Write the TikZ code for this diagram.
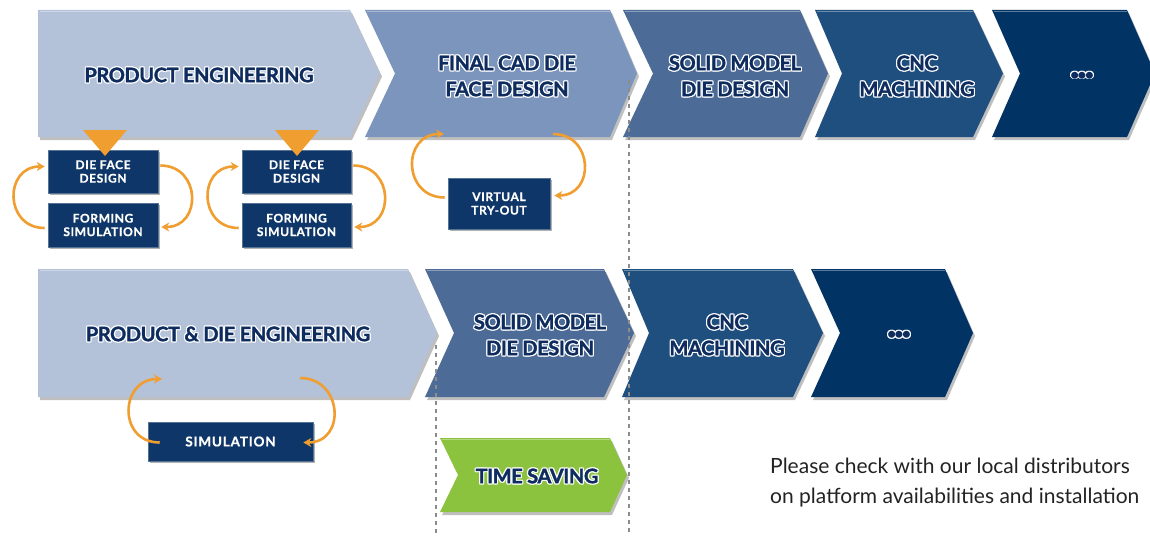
\documentclass[tikz,border=0pt]{standalone}
\usepackage{fontspec}
\setmainfont{Lato}
\usetikzlibrary{shadows,arrows.meta}
\definecolor{cA}{RGB}{179,193,217}
\definecolor{cB}{RGB}{124,149,189}
\definecolor{cC}{RGB}{76,107,151}
\definecolor{cD}{RGB}{30,79,127}
\definecolor{cE}{RGB}{2,51,101}
\definecolor{cG}{RGB}{140,195,62}
\definecolor{boxnavy}{RGB}{14,54,104}
\definecolor{txtnavy}{RGB}{14,44,94}
\definecolor{orng}{RGB}{240,158,48}
\definecolor{dashgray}{RGB}{140,140,140}
\definecolor{notegray}{RGB}{35,35,35}
\newcommand\glw[2][1pt]{%
  \setbox0=\hbox{\color{txtnavy}\begin{tabular}{@{}c@{}}#2\end{tabular}}%
  \setbox2=\hbox{\color{white}\begin{tabular}{@{}c@{}}#2\end{tabular}}%
  \rlap{\kern#1\copy2}\rlap{\kern-#1\copy2}%
  \rlap{\raise#1\copy2}\rlap{\lower#1\copy2}%
  \rlap{\kern#1\raise#1\copy2}\rlap{\kern-#1\raise#1\copy2}%
  \rlap{\kern#1\lower#1\copy2}\rlap{\kern-#1\lower#1\copy2}%
  \box0}
\newcommand\chev[7]{%
  \fill[#7, chevshadow] (#1,#5) -- (#3,#5) -- (#4,{(#5+#6)/2}) -- (#3,#6) -- (#1,#6) -- (#2,{(#5+#6)/2}) -- cycle;
  \draw[white, opacity=0.35, line width=1.2pt] (#1+1.5,#5+1.2) -- (#3,#5+1.2);}
\tikzset{
  chevshadow/.style={drop shadow={shadow xshift=2pt, shadow yshift=-3pt, opacity=0.25, fill=black}},
  chevlabel/.style={inner sep=0pt, font=\bfseries\fontsize{20}{26}\selectfont\addfontfeature{FakeBold=1.6,LetterSpace=-2}},
  dotlabel/.style={inner sep=0pt, font=\bfseries\fontsize{16}{20}\selectfont\addfontfeature{LetterSpace=-12}},
  smallbox/.style={fill=boxnavy, draw=boxnavy!70!white, line width=0.6pt, inner sep=0pt, text=white,
    align=center, font=\bfseries\fontsize{12}{13.5}\selectfont\addfontfeature{LetterSpace=5,FakeBold=0.8},
    drop shadow={shadow xshift=2pt, shadow yshift=-2pt, opacity=0.3, fill=black}},
  loop/.style={draw=orng, line width=2.6pt, -{Stealth[length=8pt,width=9pt]}, looseness=1.7},
  dashline/.style={draw=dashgray, line width=1.3pt, dash pattern=on 4pt off 4pt},
  note/.style={anchor=base west, inner sep=0pt, text=notegray, font=\fontsize{21}{30}\selectfont}
}
\begin{document}
\begin{tikzpicture}[x=1pt,y=-1pt]
\clip (0,0) rectangle (1150,535);
\fill[white] (0,0) rectangle (1150,535);
% row 1 chevrons
\chev{38}{38}{350}{380}{10}{137}{cA}
\chev{365}{395}{610}{637}{10}{137}{cB}
\chev{623}{653}{800}{828}{10}{137}{cC}
\chev{815}{842}{973}{1003}{10}{137}{cD}
\chev{992}{1020}{1127}{1155}{10}{137}{cE}
% row 2 chevrons
\chev{38}{38}{408}{437}{269}{397}{cA}
\chev{425}{454}{604}{634}{269}{397}{cC}
\chev{622}{649}{793}{823}{269}{397}{cD}
\chev{811}{840}{945}{973}{269}{397}{cE}
\chev{440}{458}{610}{627}{438}{512}{cG}
% labels
\node[chevlabel] (pe1) at (199,77) {\glw{PRODUCT ENGINEERING}};
\node[chevlabel] (fcad) at (507,78) {\glw{FINAL CAD DIE\\FACE DESIGN}};
\node[chevlabel] (sm1) at (735,78) {\glw{SOLID MODEL\\DIE DESIGN}};
\node[chevlabel] (cnc1) at (917,78) {\glw{CNC\\MACHINING}};
\node[dotlabel] (dots1) at (1082,76) {\glw{•••}};
\node[chevlabel] (pde) at (228,336) {\glw{PRODUCT \& DIE ENGINEERING}};
\node[chevlabel] (sm2) at (540,337) {\glw{SOLID MODEL\\DIE DESIGN}};
\node[chevlabel] (cnc2) at (727,337) {\glw{CNC\\MACHINING}};
\node[dotlabel] (dots2) at (899,335) {\glw{•••}};
\node[chevlabel] (ts) at (537,478) {\glw{TIME SAVING}};
% small boxes
\node[smallbox, minimum width=110pt, minimum height=43pt] (df1) at (103,171.5) {DIE FACE\\DESIGN};
\node[smallbox, minimum width=110pt, minimum height=44pt] (fs1) at (103,225) {FORMING\\SIMULATION};
\node[smallbox, minimum width=109pt, minimum height=43pt] (df2) at (296.5,171.5) {DIE FACE\\DESIGN};
\node[smallbox, minimum width=109pt, minimum height=44pt] (fs2) at (296.5,225) {FORMING\\SIMULATION};
\node[smallbox, minimum width=102pt, minimum height=51pt] (vto) at (499,203.5) {VIRTUAL\\TRY-OUT};
\node[smallbox, minimum width=165pt, minimum height=39pt, font=\bfseries\fontsize{13.5}{15}\selectfont\addfontfeature{LetterSpace=6,FakeBold=0.8}] (sim) at (230.5,441.5) {SIMULATION};
% orange triangles
\fill[orng] (83,130) -- (127,130) -- (105,156) -- cycle;
\fill[orng] (275,130) -- (319,130) -- (297,156) -- cycle;
% loop arrows
\draw[loop] ([shift={(-3,3)}]fs1.west) to[out=180,in=180] ([shift={(-3,-5)}]df1.west);
\draw[loop] ([shift={(2,-6)}]df1.east) to[out=0,in=0] ([shift={(3,2)}]fs1.east);
\draw[loop] ([shift={(-3,3)}]fs2.west) to[out=180,in=180] ([shift={(-3,-5)}]df2.west);
\draw[loop] ([shift={(2,-6)}]df2.east) to[out=0,in=0] ([shift={(3,2)}]fs2.east);
\coordinate (ta) at (444,134);
\coordinate (tb) at (553,134);
\draw[loop] ([shift={(-3,-6)}]vto.west) to[out=180,in=180] (ta);
\draw[loop] (tb) to[out=0,in=0] ([shift={(4,-8)}]vto.east);
\coordinate (sa) at (162,379);
\coordinate (sb) at (300,378);
\draw[loop] ([shift={(12,1)}]sim.west) to[out=180,in=180] (sa);
\draw[loop] (sb) to[out=0,in=0] ([shift={(-10,1)}]sim.east);
% dashed guide lines
\draw[dashline] (436,345) -- (436,535);
\draw[dashline] (629,80) -- (629,535);
% note
\node[note] (n1) at (770,473) {Please check with our local distributors};
\node[note] (n2) at (770,503) {on platform availabilities and installation};
\end{tikzpicture}
\end{document}
